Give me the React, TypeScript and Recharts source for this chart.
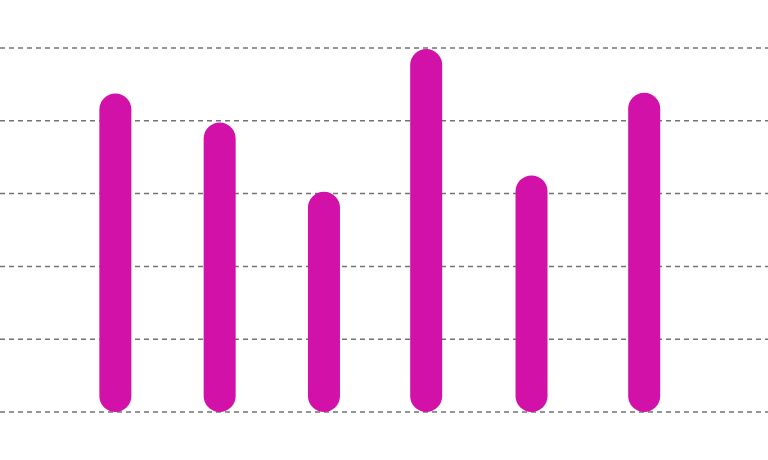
import { BarChart, Bar, XAxis, YAxis, CartesianGrid } from 'recharts'

// bar positions along x (irregular spacing)
const xs = [1, 2, 3, 3.98, 4.99, 6.07]
const values = [87.5, 79.5, 60.5, 99.7, 65, 87.7]
const yTicks = [0, 20, 40, 60, 80, 100]

const data = xs.map((x, i) => ({ x, value: values[i] }))

export default function App() {
  return (
    <div style={{ position: 'fixed', left: 0, top: 0, background: '#fff' }}>
      <BarChart width={768} height={460} data={data} margin={{ top: 48, right: 0, bottom: 48, left: 0 }}>
        <CartesianGrid vertical={false} stroke="#737373" strokeWidth={1.5} strokeDasharray="5 4" />
        <XAxis dataKey="x" type="number" domain={[-0.107, 7.256]} allowDataOverflow hide />
        <YAxis domain={[0, 100]} ticks={yTicks} hide />
        <Bar dataKey="value" fill="#D211A9" barSize={32} radius={[16, 16, 16, 16]} isAnimationActive={false} />
      </BarChart>
    </div>
  )
}
